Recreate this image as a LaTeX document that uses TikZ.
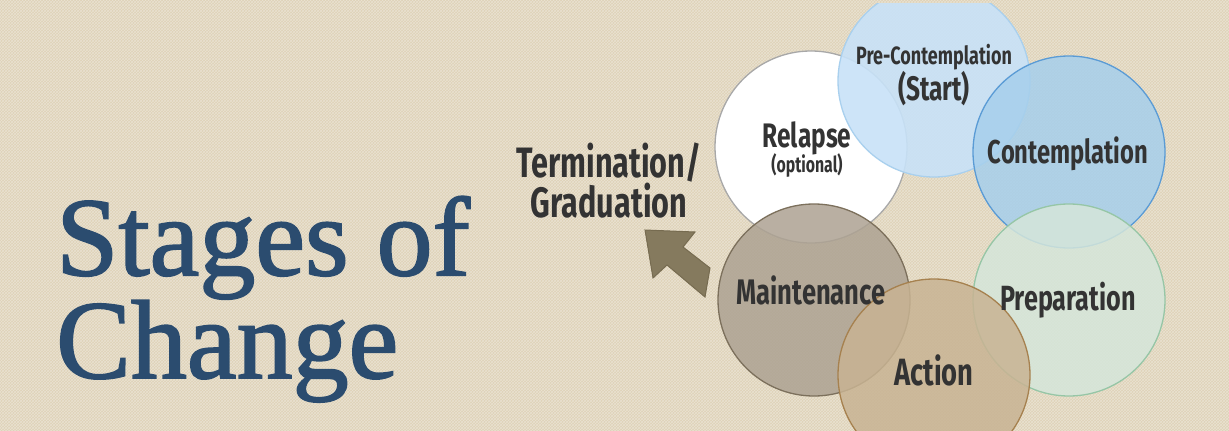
\documentclass[tikz,border=0pt]{standalone}
\usepackage{fontspec}
\usetikzlibrary{patterns}
\setmainfont{Liberation Serif}
\newfontfamily\titlefont[FakeBold=1.6]{Liberation Serif}
\newfontfamily\cond[FakeStretch=0.72]{Fira Sans}
\definecolor{bg}{HTML}{DED2B7}
\definecolor{titleblue}{HTML}{2B4C6F}
\definecolor{txt}{HTML}{333333}
\definecolor{prefill}{HTML}{C8E2F8}
\definecolor{predraw}{HTML}{A9D0EE}
\definecolor{reldraw}{HTML}{A8A8A8}
\definecolor{confill}{HTML}{A6CFEC}
\definecolor{condraw}{HTML}{5A9BD5}
\definecolor{prepfill}{HTML}{D5E6DA}
\definecolor{prepdraw}{HTML}{96C6A6}
\definecolor{mainfill}{HTML}{ADA292}
\definecolor{maindraw}{HTML}{7C705C}
\definecolor{actfill}{HTML}{C8B393}
\definecolor{actdraw}{HTML}{A6814F}
\definecolor{arrowfill}{HTML}{857A5E}
\definecolor{arrowdraw}{HTML}{766B50}
\tikzset{
  stage/.style={circle, minimum size=192pt, inner sep=0pt, line width=1.3pt, fill opacity=0.85},
  lbl/.style={text=txt, anchor=base, inner sep=0pt, align=center, font=\cond\bfseries},
}
\newcommand{\fsz}[2]{\fontsize{#1}{#2}\selectfont}
\begin{document}
\begin{tikzpicture}[x=1pt,y=-1pt]
\fill[bg] (0,0) rectangle (1229,431);
\fill[pattern=crosshatch, pattern color=white, opacity=0.35] (0,0) rectangle (1229,431);
\useasboundingbox (0,0) rectangle (1229,431);
% circles
\node[stage, fill=white, draw=reldraw, fill opacity=1] (relapse) at (811,147) {};
\begin{scope}
\clip (0,3) rectangle (1229,431);
\node[stage, fill=prefill, draw=predraw, fill opacity=0.9] (pre) at (934,81) {};
\end{scope}
\node[stage, fill=confill, draw=condraw] (contemp) at (1069,152) {};
\node[stage, fill=prepfill, draw=prepdraw] (prep) at (1069,300) {};
\node[stage, fill=mainfill, draw=maindraw] (maint) at (814,300) {};
\node[stage, fill=actfill, draw=actdraw] (action) at (934,375) {};
% circle labels
\node[lbl] (pretxt) at (934,100) {\fsz{25}{32}Pre-Contemplation\\\fsz{34}{32}(Start)};
\node[lbl, font=\cond\bfseries\fsz{34}{34}] (reltxt) at (807,147) {Relapse};
\node[lbl, font=\cond\bfseries\fsz{22}{22}] (opttxt) at (807,172) {(optional)};
\node[lbl, font=\cond\bfseries\fsz{33}{33}] (contxt) at (1068,163) {Contemplation};
\node[lbl, font=\cond\bfseries\fsz{35}{35}] (preptxt) at (1068,310) {Preparation};
\node[lbl, font=\cond\bfseries\fsz{35.5}{35.5}] (maintxt) at (811,304) {Maintenance};
\node[lbl, font=\cond\bfseries\fsz{38}{38}] (acttxt) at (934,385) {Action};
% termination
\node[lbl, font=\cond\bfseries\fsz{42.5}{40}] (term) at (609,217) {Termination/\\Graduation};
% block arrow
\filldraw[fill=arrowfill, draw=arrowdraw, line width=1pt, line join=miter]
  (645,230) -- (695,232) -- (683,247) -- (710,268) -- (705,297) -- (667,265) -- (653,278) -- cycle;
% title
\node[text=titleblue, anchor=base west, inner sep=0pt, align=left, font=\titlefont\fsz{112}{93}] (title) at (56,378) {Stages of\\Change};
\end{tikzpicture}
\end{document}
